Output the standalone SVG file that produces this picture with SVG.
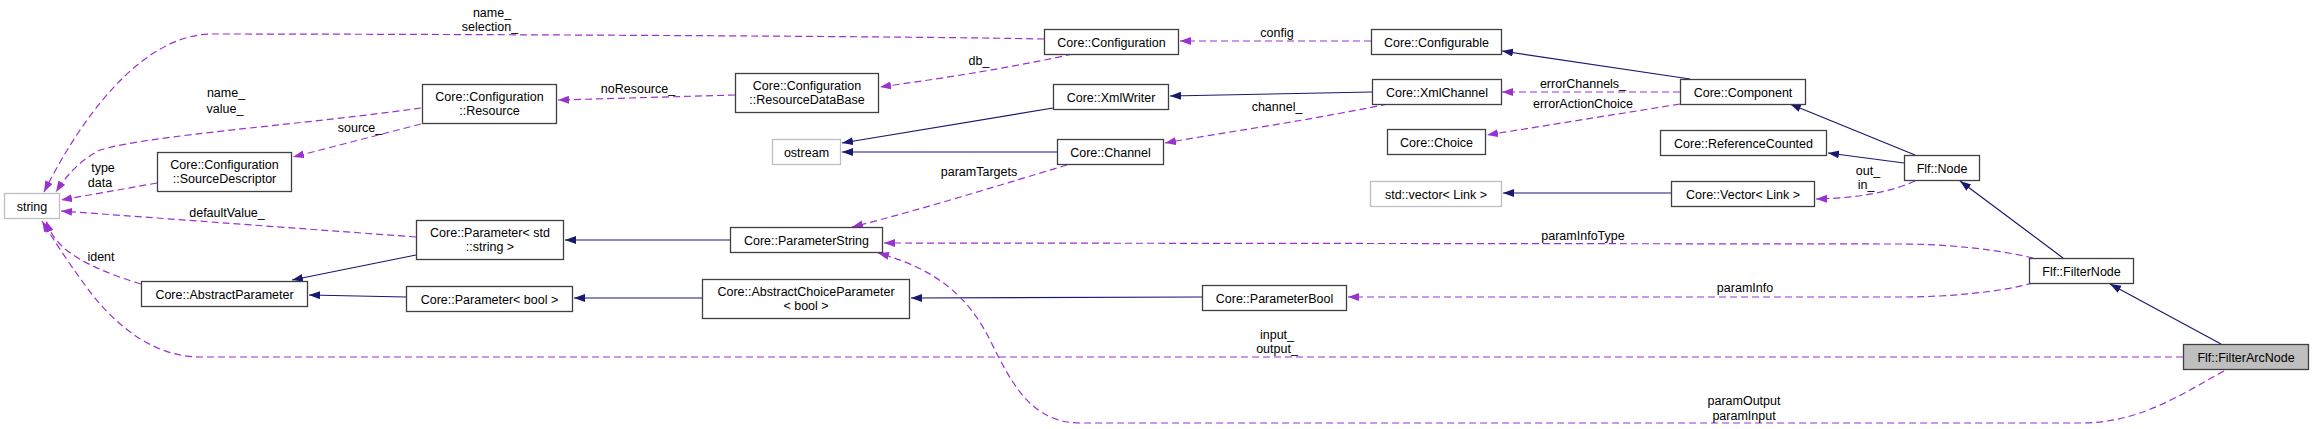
<svg xmlns="http://www.w3.org/2000/svg" width="2315" height="429" viewBox="0 0 2315 429">
<style>
text{font-family:"Liberation Sans",Arial,sans-serif;font-size:12.5px;fill:#000;text-anchor:middle}
.n rect{fill:#fff;stroke:#404040;stroke-width:1.3}
.g rect{fill:#fff;stroke:#bfbfbf;stroke-width:1.3}
.c rect{fill:#bfbfbf;stroke:#404040;stroke-width:1.3}
.inh{fill:none;stroke:#191970;stroke-width:1.2;marker-end:url(#an)}
.use{fill:none;stroke:#9a32cd;stroke-width:1.2;stroke-dasharray:7,4;marker-end:url(#ap)}
</style>
<defs>
<marker id="an" markerUnits="userSpaceOnUse" markerWidth="12" markerHeight="9" refX="11" refY="4" orient="auto" viewBox="0 0 12 9"><path d="M0,0 L11,4 L0,8 z" fill="#191970"/></marker>
<marker id="ap" markerUnits="userSpaceOnUse" markerWidth="12" markerHeight="9" refX="11" refY="4" orient="auto" viewBox="0 0 12 9"><path d="M0,0 L11,4 L0,8 z" fill="#9a32cd"/></marker>
</defs>
<rect width="2315" height="429" fill="#fff"/>
<g id="connectors">
<path class="use" d="M1044,39 C900,36 400,34 210,34 C140,36 80,120 44,192"/>
<path class="use" d="M421,108 C300,125 150,135 100,150 C80,160 66,176 56,192"/>
<path class="use" d="M157,183 L61,200"/>
<path class="use" d="M416,237 L61,211"/>
<path class="use" d="M141,284 C110,275 80,262 64,248 C55,240 50,232 46,221"/>
<path class="use" d="M2183,357 L200,357 C150,357 110,320 85,285 C68,262 55,242 42,221"/>
<path class="use" d="M735,95 L558,100"/>
<path class="use" d="M1073,54 C1000,70 930,80 880,87"/>
<path class="use" d="M421,124 L293,157"/>
<path class="use" d="M1371,41 L1180,41"/>
<path class="inh" d="M1690,79 L1502,51"/>
<path class="use" d="M1680,92 L1502,92"/>
<path class="use" d="M1680,104 L1487,135"/>
<path class="inh" d="M1372,92 L1170,96"/>
<path class="use" d="M1388,104 C1300,122 1220,133 1165,143"/>
<path class="inh" d="M1053,108 L842,143"/>
<path class="inh" d="M1057,152 L842,152"/>
<path class="use" d="M1067,165 C1000,185 920,210 852,227"/>
<path class="inh" d="M730,240 L565,240"/>
<path class="inh" d="M416,255 L292,280"/>
<path class="inh" d="M406,297 L309,295"/>
<path class="inh" d="M702,298 L574,298"/>
<path class="inh" d="M1202,297 L911,298"/>
<path class="use" d="M2033,258 C2000,250 1950,244 1900,244 L884,243"/>
<path class="use" d="M2033,283 C2000,292 1950,297 1900,297 L1348,297"/>
<path class="use" d="M2224,371 C2180,395 2140,423 2080,423 L1080,423 C1030,423 1010,380 990,340 C970,300 940,270 878,253"/>
<path class="inh" d="M1915,155 L1790,104"/>
<path class="inh" d="M1904,163 L1828,153"/>
<path class="use" d="M1915,181 C1890,192 1860,198 1816,199"/>
<path class="inh" d="M1671,193 L1503,193"/>
<path class="inh" d="M2063,258 L1960,181"/>
<path class="inh" d="M2221,344 L2110,284"/>
<text x="492" y="17">name_</text><text x="490" y="31">selection_</text>
<text x="226" y="97">name_</text><text x="225" y="113">value_</text>
<text x="360" y="132">source_</text>
<text x="103" y="172">type</text><text x="100" y="187">data</text>
<text x="227" y="217">defaultValue_</text>
<text x="101" y="261">ident</text>
<text x="638" y="93">noResource_</text>
<text x="979" y="65">db_</text>
<text x="1277" y="37">config</text>
<text x="1583" y="88">errorChannels_</text>
<text x="1583" y="108">errorActionChoice</text>
<text x="1277" y="111">channel_</text>
<text x="979" y="176">paramTargets</text>
<text x="1583" y="240">paramInfoType</text>
<text x="1745" y="292">paramInfo</text>
<text x="1277" y="339">input_</text><text x="1277" y="353">output_</text>
<text x="1744" y="405">paramOutput</text><text x="1744" y="420">paramInput</text>
<text x="1868" y="175">out_</text><text x="1866" y="189">in_</text>
</g>
<g id="n-string" class="g"><rect x="4.5" y="193.5" width="55" height="25"/><text x="32" y="210.5">string</text></g>
<g id="n-resource" class="n"><rect x="422.5" y="84.5" width="134" height="39"/><text x="489.5" y="100.5">Core::Configuration</text><text x="489.5" y="114.5">::Resource</text></g>
<g id="n-sourcedesc" class="n"><rect x="157.5" y="152.5" width="134" height="39"/><text x="224.5" y="168.5">Core::Configuration</text><text x="224.5" y="182.5">::SourceDescriptor</text></g>
<g id="n-paramstdstring" class="n"><rect x="416.5" y="220.5" width="147" height="39"/><text x="490" y="236.5">Core::Parameter&lt; std</text><text x="490" y="250.5">::string &gt;</text></g>
<g id="n-abstractparam" class="n"><rect x="141.5" y="281.5" width="166" height="25"/><text x="224.5" y="298.5">Core::AbstractParameter</text></g>
<g id="n-parambool" class="n"><rect x="406.5" y="286.5" width="166" height="25"/><text x="489.5" y="303.5">Core::Parameter&lt; bool &gt;</text></g>
<g id="n-configuration" class="n"><rect x="1044.5" y="29.5" width="134" height="25"/><text x="1111.5" y="46.5">Core::Configuration</text></g>
<g id="n-resourcedb" class="n"><rect x="735.5" y="73.5" width="143" height="39"/><text x="807" y="89.5">Core::Configuration</text><text x="807" y="103.5">::ResourceDataBase</text></g>
<g id="n-xmlwriter" class="n"><rect x="1053.5" y="84.5" width="115" height="25"/><text x="1111" y="101.5">Core::XmlWriter</text></g>
<g id="n-ostream" class="g"><rect x="772.5" y="139.5" width="68" height="25"/><text x="806.5" y="156.5">ostream</text></g>
<g id="n-channel" class="n"><rect x="1057.5" y="139.5" width="106" height="25"/><text x="1110.5" y="156.5">Core::Channel</text></g>
<g id="n-paramstring" class="n"><rect x="730.5" y="227.5" width="152" height="25"/><text x="806.5" y="244.5">Core::ParameterString</text></g>
<g id="n-abstractchoice" class="n"><rect x="702.5" y="279.5" width="207" height="39"/><text x="806" y="295.5">Core::AbstractChoiceParameter</text><text x="806" y="309.5">&lt; bool &gt;</text></g>
<g id="n-configurable" class="n"><rect x="1371.5" y="29.5" width="130" height="25"/><text x="1436.5" y="46.5">Core::Configurable</text></g>
<g id="n-xmlchannel" class="n"><rect x="1372.5" y="79.5" width="129" height="25"/><text x="1437" y="96.5">Core::XmlChannel</text></g>
<g id="n-choice" class="n"><rect x="1387.5" y="129.5" width="98" height="25"/><text x="1436.5" y="146.5">Core::Choice</text></g>
<g id="n-stdvector" class="g"><rect x="1370.5" y="181.5" width="131" height="25"/><text x="1436" y="198.5">std::vector&lt; Link &gt;</text></g>
<g id="n-component" class="n"><rect x="1680.5" y="79.5" width="125" height="25"/><text x="1743" y="96.5">Core::Component</text></g>
<g id="n-refcounted" class="n"><rect x="1660.5" y="130.5" width="166" height="25"/><text x="1743.5" y="147.5">Core::ReferenceCounted</text></g>
<g id="n-vectorlink" class="n"><rect x="1671.5" y="181.5" width="143" height="25"/><text x="1743" y="198.5">Core::Vector&lt; Link &gt;</text></g>
<g id="n-parameterbool" class="n"><rect x="1202.5" y="285.5" width="144" height="25"/><text x="1274.5" y="302.5">Core::ParameterBool</text></g>
<g id="n-flfnode" class="n"><rect x="1904.5" y="155.5" width="75" height="25"/><text x="1942" y="172.5">Flf::Node</text></g>
<g id="n-filternode" class="n"><rect x="2029.5" y="258.5" width="104" height="25"/><text x="2081.5" y="275.5">Flf::FilterNode</text></g>
<g id="n-filterarcnode" class="c"><rect x="2183.5" y="344.5" width="125" height="25"/><text x="2246" y="361.5">Flf::FilterArcNode</text></g>
</svg>
